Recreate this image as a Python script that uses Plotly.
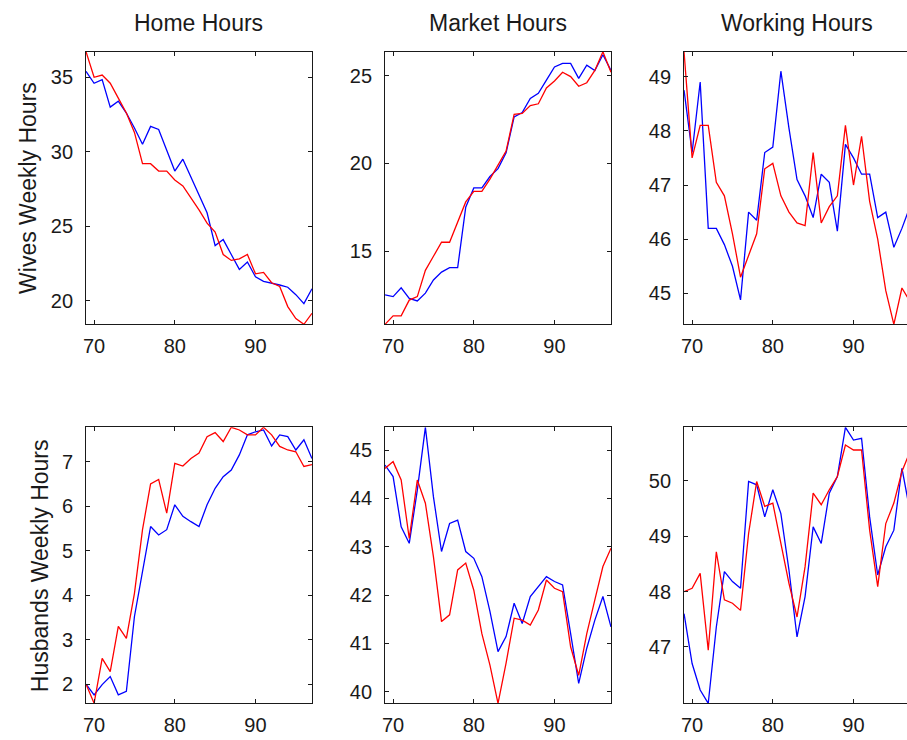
import plotly.graph_objects as go

# Survey years (19xx)
years = list(range(69, 98))

col_titles = ["Home Hours", "Market Hours", "Working Hours"]
row_titles = ["Wives Weekly Hours", "Husbands Weekly Hours"]
x_ticks = [70, 80, 90]

# Wives
wives_home_a = [36.72, 35.0, 35.15, 34.6, 33.6, 32.6, 31.3, 29.2, 29.2, 28.7, 28.7, 28.1, 27.7, 26.9,
                26.1, 25.2, 24.6, 23.1, 22.7, 22.8, 23.1, 21.8, 21.9, 21.2, 20.95, 19.6, 18.8, 18.41, 19.15]
wives_home_b = [35.4, 34.6, 34.85, 33.0, 33.4, 32.6, 31.6, 30.5, 31.7, 31.5, 30.1, 28.7, 29.5, 28.3,
                27.2, 25.9, 23.7, 24.1, 23.1, 22.1, 22.6, 21.6, 21.3, 21.2, 21.05, 20.9, 20.4, 19.8, 20.8]
wives_market_a = [10.82, 11.3, 11.3, 12.2, 12.4, 13.9, 14.7, 15.5, 15.5, 16.6, 17.8, 18.4, 18.4, 19.1,
                  19.9, 20.7, 22.8, 22.85, 23.3, 23.4, 24.3, 24.7, 25.2, 24.95, 24.4, 24.6, 25.3, 26.37, 25.2]
wives_market_b = [12.5, 12.4, 12.9, 12.3, 12.15, 12.6, 13.35, 13.8, 14.05, 14.05, 17.5, 18.6, 18.6, 19.25,
                  19.7, 20.6, 22.65, 22.9, 23.7, 24.0, 24.75, 25.5, 25.7, 25.7, 24.85, 25.6, 25.3, 26.2, 25.3]
wives_work_a = [49.46, 47.5, 48.1, 48.1, 47.05, 46.8, 46.1, 45.3, 45.7, 46.1, 47.3, 47.4, 46.8, 46.5,
                46.3, 46.25, 47.6, 46.3, 46.6, 46.8, 48.1, 47.0, 47.9, 46.7, 46.0, 45.05, 44.43, 45.1, 44.85]
wives_work_b = [48.75, 47.6, 48.9, 46.2, 46.2, 45.9, 45.5, 44.88, 46.5, 46.35, 47.6, 47.7, 49.1, 48.05,
                47.1, 46.8, 46.4, 47.2, 47.05, 46.15, 47.75, 47.5, 47.2, 47.2, 46.4, 46.5, 45.85, 46.2, 46.6]

# Husbands
husb_home_a = [2.0, 1.57, 2.58, 2.28, 3.3, 3.03, 4.04, 5.47, 6.5, 6.6, 5.84, 6.96, 6.9, 7.07,
               7.19, 7.56, 7.65, 7.45, 7.77, 7.71, 7.6, 7.6, 7.77, 7.6, 7.34, 7.26, 7.22, 6.89, 6.93]
husb_home_b = [2.0, 1.76, 1.99, 2.17, 1.76, 1.84, 3.52, 4.57, 5.54, 5.35, 5.47, 6.03, 5.77, 5.65,
               5.54, 6.03, 6.4, 6.66, 6.81, 7.15, 7.6, 7.67, 7.71, 7.35, 7.6, 7.56, 7.26, 7.49, 7.07]
husb_market_a = [44.62, 44.76, 44.38, 43.17, 44.38, 43.9, 42.79, 41.45, 41.59, 42.52, 42.66, 42.1, 41.2, 40.55,
                 39.76, 40.59, 41.52, 41.48, 41.38, 41.69, 42.31, 42.14, 42.07, 40.93, 40.34, 41.2, 41.9, 42.59, 42.97]
husb_market_b = [44.69, 44.45, 43.41, 43.07, 44.17, 45.47, 44.03, 42.9, 43.48, 43.55, 42.9, 42.76, 42.38, 41.66,
                 40.83, 41.14, 41.83, 41.41, 41.97, 42.17, 42.38, 42.28, 42.21, 41.2, 40.17, 40.9, 41.48, 41.97, 41.34]
husb_work_a = [48.0, 48.06, 48.33, 46.94, 48.72, 47.85, 47.79, 47.66, 49.05, 49.99, 49.54, 49.6, 48.87, 48.15,
               47.54, 48.45, 49.78, 49.57, 49.84, 50.08, 50.65, 50.56, 50.56, 49.11, 48.09, 49.23, 49.6, 50.17, 50.53]
husb_work_b = [47.6, 46.7, 46.22, 45.98, 47.36, 48.36, 48.18, 48.06, 49.99, 49.93, 49.35, 49.84, 49.41, 48.39,
               47.18, 47.91, 49.17, 48.87, 49.78, 50.08, 50.97, 50.74, 50.77, 49.35, 48.3, 48.81, 49.11, 50.23, 49.45]

# y tick values per panel (row-major)
y_ticks = [
    [20, 25, 30, 35], [15, 20, 25], [45, 46, 47, 48, 49],
    [2, 3, 4, 5, 6, 7], [40, 41, 42, 43, 44, 45], [47, 48, 49, 50],
]

panels = [
    (wives_home_a, wives_home_b), (wives_market_a, wives_market_b), (wives_work_a, wives_work_b),
    (husb_home_a, husb_home_b), (husb_market_a, husb_market_b), (husb_work_a, husb_work_b),
]

W, H = 907, 740
col_px = [(83.3, 310.0), (383.3, 610.0), (683.3, 910.0)]
row_px = [(51.7, 324.3), (427.3, 703.3)]
x_lo, x_hi = 69, 97


def px_x(p):
    return p / W


def px_y(p):
    return 1 - p / H


tick_font = dict(family="Liberation Sans, Arial, sans-serif", size=20, color="#1a1a1a")
text_font = dict(family="Liberation Sans, Arial, sans-serif", size=23, color="#1a1a1a")

fig = go.Figure()
layout = dict(
    width=W, height=H,
    margin=dict(l=0, r=0, t=0, b=0),
    paper_bgcolor="white", plot_bgcolor="white",
    showlegend=False,
    annotations=[],
)

for i, (sa, sb) in enumerate(panels):
    r, c = divmod(i, 3)
    n = i + 1
    xa = "x" if n == 1 else f"x{n}"
    ya = "y" if n == 1 else f"y{n}"

    fig.add_trace(go.Scatter(x=years, y=sb, mode="lines", xaxis=xa, yaxis=ya,
                             line=dict(color="#0000ff", width=1.3)))
    fig.add_trace(go.Scatter(x=years, y=sa, mode="lines", xaxis=xa, yaxis=ya,
                             line=dict(color="#ff0000", width=1.3)))

    left, right = col_px[c]
    top, bottom = row_px[r]
    ppu = (right - left) / (x_hi - x_lo)
    dom_right = min(right, W)
    xr_hi = x_lo + (dom_right - left) / ppu
    all_vals = list(sa) + list(sb)

    common = dict(
        showline=True, linecolor="#1a1a1a", linewidth=1,
        ticks="inside", ticklen=4, tickwidth=1, tickcolor="#1a1a1a",
        showgrid=False, zeroline=False, tickfont=tick_font,
    )
    layout["xaxis" if n == 1 else f"xaxis{n}"] = dict(
        common, domain=[px_x(left), px_x(dom_right)], range=[x_lo, xr_hi],
        tickvals=x_ticks, anchor=ya, mirror="allticks", ticklabelstandoff=4,
    )
    layout["yaxis" if n == 1 else f"yaxis{n}"] = dict(
        common, domain=[px_y(bottom), px_y(top)],
        range=[min(all_vals), max(all_vals)],
        tickvals=y_ticks[i], anchor=xa,
        mirror="allticks" if right <= W else False, ticklabelstandoff=8,
    )

for c, t in enumerate(col_titles):
    left, right = col_px[c]
    layout["annotations"].append(dict(
        text=t, x=px_x((left + right) / 2), y=px_y(22.7), xref="paper", yref="paper",
        xanchor="center", yanchor="middle", showarrow=False, font=text_font))

for r, (t, xc) in enumerate(zip(row_titles, [25, 37])):
    top, bottom = row_px[r]
    layout["annotations"].append(dict(
        text=t, x=px_x(xc), y=px_y((top + bottom) / 2), xref="paper", yref="paper",
        xanchor="center", yanchor="middle", textangle=-90, showarrow=False, font=text_font))

fig.update_layout(layout)
fig.write_html("out.html")
